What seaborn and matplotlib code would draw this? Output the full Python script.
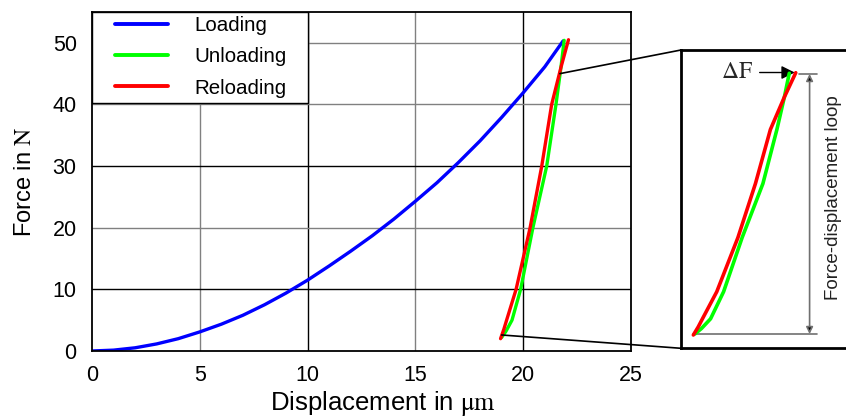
import matplotlib
matplotlib.use("Agg")
import matplotlib.pyplot as plt
import seaborn as sns
import pandas as pd
from matplotlib.patches import Rectangle, ConnectionPatch

# ---------------- data ----------------
load_x = [0, 1, 2, 3, 4, 5, 6, 7, 8, 9, 10, 11, 12, 13, 14, 15, 16, 17, 18, 19, 20, 21, 21.85]
load_f = [0, 0.14, 0.52, 1.15, 2.0, 3.1, 4.35, 5.8, 7.5, 9.4, 11.5, 13.8, 16.2, 18.7,
          21.4, 24.3, 27.3, 30.6, 34.1, 37.9, 41.9, 46.1, 50.3]
unload_x = [21.9, 21.75, 21.52, 21.09, 20.45, 19.88, 19.48, 19.2, 19.0]
unload_f = [50.4, 46.0, 40.0, 30.0, 20.0, 10.0, 5.0, 3.2, 2.2]
reload_x = [18.95, 19.1, 19.23, 19.67, 20.32, 20.86, 21.32, 21.75, 22.1]
reload_f = [2.0, 3.5, 5.0, 10.0, 20.0, 30.0, 40.0, 46.0, 50.5]
x_ticks = [0, 5, 10, 15, 20, 25]
y_ticks = [0, 10, 20, 30, 40, 50]
series_labels = ["Loading", "Unloading", "Reloading"]
series_colors = ["#0000ff", "#00ff00", "#ff0000"]

# ---------------- style ----------------
sns.set_theme(style="white")
plt.rcParams["font.family"] = ["Liberation Sans", "DejaVu Sans"]
plt.rcParams["mathtext.fontset"] = "stix"

W, H = 846, 417
fig = plt.figure(figsize=(W / 100, H / 100), dpi=100)


def rect(l, t, r, b):
    return [l / W, 1 - b / H, (r - l) / W, (b - t) / H]


ax = fig.add_axes(rect(92, 12, 631, 351))
axi = fig.add_axes(rect(681, 50, 852, 348.3))

df_load = pd.DataFrame({"x": load_x, "f": load_f})
df_unload = pd.DataFrame({"x": unload_x, "f": unload_f})
df_reload = pd.DataFrame({"x": reload_x, "f": reload_f})
frames = [df_load, df_unload, df_reload]

# gridlines (alternating grey / black as in the reference)
for v, c in zip([5, 10, 15, 20], ["#808080", "black", "#808080", "black"]):
    ax.axvline(v, color=c, lw=1.0, zorder=1)
for v, c in zip([10, 20, 30, 40, 50], ["black", "#808080", "black", "#808080", "#808080"]):
    ax.axhline(v, color=c, lw=1.0, zorder=1)

handles = []
for d, lab, col in zip(frames, series_labels, series_colors):
    sns.lineplot(data=d, x="x", y="f", sort=False, estimator=None, color=col,
                 lw=2.4, ax=ax, zorder=4, legend=False)
    handles.append(plt.Line2D([], [], color=col, lw=2.8, label=lab))

ax.set_xlim(0, 25)
ax.set_ylim(0, 55)
ax.set_xticks(x_ticks)
ax.set_yticks(y_ticks)
ax.tick_params(length=0, labelsize=15.5, labelcolor="black")
ax.tick_params(axis="y", pad=11)
ax.tick_params(axis="x", pad=10)
for s in ax.spines.values():
    s.set_color("black")
    s.set_linewidth(1.3)
    s.set_zorder(6)

ax.set_xlabel(r"Displacement in $\mathrm{\mu m}$", fontsize=18.5, color="black")
ax.set_ylabel(r"Force in $\mathrm{N}$", fontsize=17, color="black")
ax.xaxis.set_label_coords((383 - 92) / 539, (351 - 389) / 339)
ax.yaxis.set_label_coords((36 - 92) / 539, 0.5)

# legend box (white cell covering the upper-left grid cell)
ax.add_patch(Rectangle((0, 40.2), 10, 14.8, facecolor="white", edgecolor="black",
                       lw=1.0, zorder=3))
leg = ax.legend(handles=handles, loc="upper left",
                bbox_to_anchor=((115 - 92) / 539, (351 - 16) / 339),
                frameon=False, fontsize=14.8, borderpad=0, borderaxespad=0,
                handlelength=2.6, handletextpad=1.25, labelspacing=0.6)
for t in leg.get_texts():
    t.set_color("black")
leg.set_zorder(7)

# ---------------- inset ----------------
for d, col in zip([df_unload, df_reload], series_colors[1:]):
    sns.lineplot(data=d, x="x", y="f", sort=False, estimator=None, color=col,
                 lw=2.6, ax=axi, legend=False, zorder=4)
axi.set_xlim(18.57, 23.83)
axi.set_ylim(-0.46, 54.7)
axi.set_xticks([])
axi.set_yticks([])
axi.set_xlabel("")
axi.set_ylabel("")
for k, s in axi.spines.items():
    s.set_color("black")
    s.set_linewidth(2.0)
axi.spines["right"].set_visible(False)

ytop = (348.3 - 74) / 298.3
ybot = (348.3 - 334) / 298.3
axi.plot([0.69, 0.794], [ytop, ytop], color="#707070", lw=1.2, transform=axi.transAxes)
axi.plot([0.07, 0.794], [ybot, ybot], color="#707070", lw=1.2, transform=axi.transAxes)
axi.annotate("", xy=(0.752, ytop), xytext=(0.752, ybot), xycoords="axes fraction",
             textcoords="axes fraction",
             arrowprops=dict(arrowstyle="<|-|>", color="#707070", lw=1.2,
                             mutation_scale=10, shrinkA=0, shrinkB=0,
                             fc="black", ec="#707070"))
axi.text(0.89, 0.504, "Force-displacement loop", rotation=90, fontsize=13.5,
         ha="center", va="center", transform=axi.transAxes, color="#222222")
axi.text(0.33, ytop + 0.008, r"$\Delta\mathrm{F}$", fontsize=17, ha="center", va="center",
         transform=axi.transAxes)
axi.annotate("", xy=(0.665, ytop + 0.005), xytext=(0.46, ytop + 0.005),
             xycoords="axes fraction", textcoords="axes fraction",
             arrowprops=dict(arrowstyle="-|>", color="black", lw=1.0,
                             mutation_scale=20, shrinkA=0, shrinkB=0))

# connection lines from main plot to inset
for xyA, xyB in [((21.7, 45.0), (0, 1)), ((19.0, 2.6), (0, 0))]:
    con = ConnectionPatch(xyA=xyA, coordsA=ax.transData, xyB=xyB, coordsB=axi.transAxes,
                          color="black", lw=1.2)
    fig.add_artist(con)

fig.savefig("out.png", dpi=100)
